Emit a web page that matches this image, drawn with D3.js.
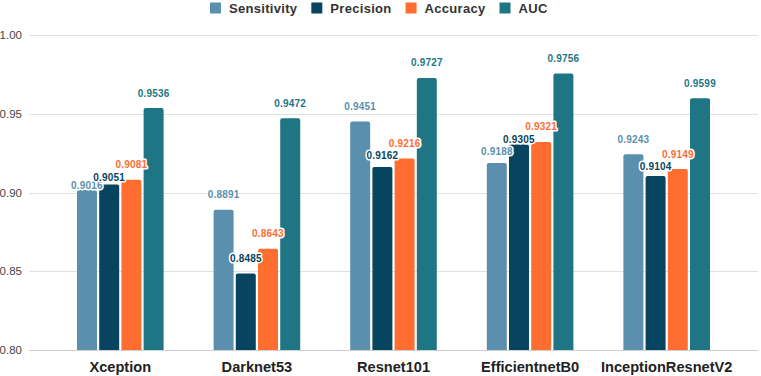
<!DOCTYPE html>
<html>
<head>
<meta charset="utf-8">
<script src="https://cdn.jsdelivr.net/npm/d3@7"></script>
<style>
  body { margin: 0; background: #fff; }
  svg { display: block; font-family: "Liberation Sans", Arial, sans-serif; }
</style>
</head>
<body>
<div id="chart"></div>
<script>
// Data
const models = ["Xception", "Darknet53", "Resnet101", "EfficientnetB0", "InceptionResnetV2"];
const metrics = ["Sensitivity", "Precision", "Accuracy", "AUC"];
const sensitivity = [0.9016, 0.8891, 0.9451, 0.9188, 0.9243];
const precision   = [0.9051, 0.8485, 0.9162, 0.9305, 0.9104];
const accuracy    = [0.9081, 0.8643, 0.9216, 0.9321, 0.9149];
const auc         = [0.9536, 0.9472, 0.9727, 0.9756, 0.9599];
const yTicks = [0.80, 0.85, 0.90, 0.95, 1.00];

const colors = {Sensitivity: "#5a8fae", Precision: "#07445f", Accuracy: "#ff6d31", AUC: "#1e7684"};
const series = {Sensitivity: sensitivity, Precision: precision, Accuracy: accuracy, AUC: auc};

const W = 761, H = 376;
const svg = d3.select("#chart").append("svg")
    .attr("width", W)
    .attr("height", H);

// Scales
const y = d3.scaleLinear().domain([0.80, 1.00]).range([350, 35]);
const x0 = d3.scaleBand().domain(models).range([52, 735])
    .paddingInner(0.366).paddingOuter(0.183);
const x1 = d3.scaleBand().domain(metrics).range([0, x0.bandwidth()]).paddingInner(0.1);

// Grid lines
svg.append("g").selectAll("line")
    .data(yTicks)
    .join("line")
    .attr("x1", 29)
    .attr("x2", 758)
    .attr("y1", d => Math.round(y(d)) + 0.5)
    .attr("y2", d => Math.round(y(d)) + 0.5)
    .attr("stroke", d => d === 0.80 ? "#cfcfcf" : "#e0e0e0")
    .attr("stroke-width", 1);

// Y axis labels
svg.append("g").selectAll("text")
    .data(yTicks)
    .join("text")
    .attr("x", 22)
    .attr("y", d => y(d))
    .attr("dy", "0.35em")
    .attr("text-anchor", "end")
    .style("font-size", "11.5px")
    .style("fill", "#444")
    .text(d => d.toFixed(2));

// Bars with rounded top corners
const r = 2;
function barPath(bx, by, bw, bh) {
  return `M${bx},${by + bh}V${by + r}Q${bx},${by} ${bx + r},${by}H${bx + bw - r}Q${bx + bw},${by} ${bx + bw},${by + r}V${by + bh}Z`;
}

const flat = [];
models.forEach((m, i) => {
  metrics.forEach(k => flat.push({model: m, metric: k, value: series[k][i]}));
});

svg.append("g").selectAll("path")
    .data(flat)
    .join("path")
    .attr("d", d => {
      const bx = x0(d.model) + x1(d.metric);
      const by = y(d.value);
      return barPath(bx, by, x1.bandwidth(), y(0.80) - by);
    })
    .attr("fill", d => colors[d.metric]);

// Value labels: placed above bar, pushed down when they collide with the label to the right
const labH = 12.5;
models.forEach((m, i) => {
  const labs = metrics.map(k => ({metric: k, value: series[k][i], top: y(series[k][i])}));
  labs.forEach(l => l.cy = l.top - 15);
  for (let j = labs.length - 2; j >= 0; j--) {
    const nxt = labs[j + 1];
    if (Math.abs(labs[j].cy - nxt.cy) < labH) {
      labs[j].cy = Math.min(nxt.cy + labH, labs[j].top - 4);
    }
  }
  svg.append("g").selectAll("text")
      .data(labs)
      .join("text")
      .attr("x", d => x0(m) + x1(d.metric) + x1.bandwidth() / 2)
      .attr("y", d => d.cy)
      .attr("dy", "0.35em")
      .attr("text-anchor", "middle")
      .style("font-size", "10px")
      .style("font-weight", "bold")
      .style("letter-spacing", "0.2px")
      .style("fill", d => colors[d.metric])
      .style("stroke", "#fff")
      .style("stroke-width", 3)
      .style("stroke-linejoin", "round")
      .style("paint-order", "stroke")
      .text(d => d.value.toFixed(4));
});

// X axis labels
svg.append("g").selectAll("text")
    .data(models)
    .join("text")
    .attr("x", d => x0(d) + x0.bandwidth() / 2)
    .attr("y", 372)
    .attr("text-anchor", "middle")
    .style("font-size", "14.6px")
    .style("font-weight", "bold")
    .style("fill", "#222")
    .text(d => d);

// Legend
const legend = svg.append("g");
const items = legend.selectAll("g")
    .data(metrics)
    .join("g");
items.append("rect")
    .attr("width", 11)
    .attr("height", 11)
    .attr("y", 2.5)
    .attr("fill", d => colors[d]);
items.append("text")
    .attr("x", 19)
    .attr("y", 13)
    .style("font-size", "13px")
    .style("font-weight", "bold")
    .style("letter-spacing", "0.3px")
    .style("fill", "#333")
    .text(d => d);

let lx = 0;
items.each(function() {
  const g = d3.select(this);
  g.attr("transform", `translate(${lx},0)`);
  lx += 19 + g.select("text").node().getComputedTextLength() + 14;
});
const legendW = lx - 14;
legend.attr("transform", `translate(${Math.round(379 - legendW / 2)},0)`);
</script>
</body>
</html>
